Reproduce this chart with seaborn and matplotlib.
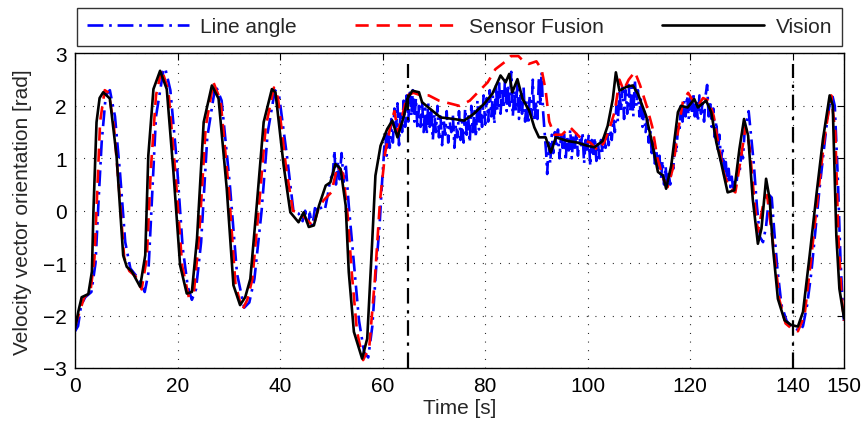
import numpy as np
import pandas as pd
import matplotlib
matplotlib.use("Agg")
import matplotlib.pyplot as plt
import seaborn as sns

# ---------- DATA ----------
vision_t = [0, 0.7, 1.3, 2.6, 3.3, 3.6, 4.2, 4.8, 5.5, 6.8, 8.1, 9.4, 10.1, 11.1, 12.7, 13.7,
            14.3, 15.3, 16.6, 17.9, 19.2, 20.5, 21.8, 22.8, 23.8, 25.1, 26.7, 28.0, 29.6, 30.9,
            32.2, 33.2, 34.2, 35.5, 36.8, 38.4, 39.1, 40.7, 42.0, 43.6, 44.6, 45.6, 46.6, 47.6,
            48.9, 49.8, 50.8, 51.8, 52.8, 53.4, 54.4, 56.0, 57.0, 58.0, 58.6, 59.6, 60.9, 61.9,
            62.9, 64.2, 64.8, 65.8, 67.1, 67.7, 69.3, 71.3, 73.9, 75.9, 77.8, 79.8, 81.4, 83.0,
            84.0, 84.7, 85.3, 86.3, 87.3, 88.6, 89.6, 90.5, 91.8, 92.8, 93.8, 96.1, 98.0, 99.9,
            101.3, 102.9, 103.9, 104.9, 105.5, 106.2, 107.5, 108.8, 109.8, 111.4, 112.4, 113.7,
            114.7, 115.3, 116.3, 117.6, 118.2, 119.5, 120.8, 121.5, 123.1, 124.1, 125.1, 126.0,
            127.3, 128.6, 129.6, 130.5, 131.3, 132.2, 133.2, 133.9, 134.8, 135.5, 136.1, 137.1,
            138.4, 139.7, 141.0, 142.0, 143.3, 144.6, 145.9, 147.2, 147.8, 148.5, 149.1, 150.0]
vision_v = [-2.25, -1.9, -1.65, -1.59, -1.16, 0.0, 1.69, 2.15, 2.26, 2.14, 1.05, -0.85, -1.07,
            -1.16, -1.45, -0.85, 1.05, 2.32, 2.67, 2.32, 0.74, -1.04, -1.58, -1.55, -0.53, 1.69,
            2.39, 2.14, 0.42, -1.42, -1.80, -1.65, -1.30, 0.16, 1.69, 2.32, 2.26, 0.86, -0.03,
            -0.22, -0.03, -0.31, -0.28, 0.10, 0.48, 0.54, 0.89, 0.80, 0.10, -1.17, -2.31, -2.82,
            -2.44, -0.53, 0.67, 1.24, 1.56, 1.72, 1.40, 1.82, 2.13, 2.29, 2.26, 2.07, 1.94, 1.78,
            1.75, 1.72, 1.85, 2.04, 2.23, 2.58, 2.45, 2.61, 2.26, 2.51, 2.13, 1.91, 1.59, 1.40,
            1.40, 1.11, 1.40, 1.33, 1.30, 1.24, 1.21, 1.33, 1.62, 2.13, 2.64, 2.29, 2.36, 2.39,
            2.23, 1.81, 1.37, 0.74, 0.67, 0.42, 0.86, 1.88, 2.00, 1.97, 2.13, 1.97, 2.10, 1.88,
            1.30, 0.93, 0.35, 0.39, 1.18, 1.75, 1.43, 0.22, -0.63, -0.34, 0.61, 0.22, -0.66,
            -1.68, -2.09, -2.18, -2.21, -1.93, -0.85, 0.29, 1.37, 2.20, 2.01, -0.47, -1.49, -2.05]

fusion_t = [0, 1.0, 1.8, 3.0, 3.8, 4.3, 4.9, 5.8, 6.6, 7.6, 8.6, 9.6, 10.6, 11.8, 13.0, 14.0,
            14.8, 15.8, 16.9, 18.2, 19.6, 20.9, 22.2, 23.2, 24.2, 25.5, 27.0, 28.4, 30.0, 31.3,
            32.6, 33.6, 34.6, 35.9, 37.2, 38.8, 39.6, 41.2, 42.5, 44.0, 45.5, 46.5, 47.5, 48.5,
            49.5, 50.0, 51.2, 52.3, 53.2, 54.0, 55.0, 56.2, 57.4, 58.5, 59.5, 60.5, 61.5, 62.3,
            63.0, 63.8, 64.8, 66.0, 67.5, 69.0, 71.0, 73.0, 75.0, 77.0, 79.0, 80.5, 82.0, 84.0,
            85.0, 86.5, 87.5, 88.5, 90.0, 91.0, 91.8, 92.5, 93.5, 95.0, 96.5, 97.5, 99.0, 100.5,
            102.0, 103.2, 104.2, 105.3, 106.2, 107.0, 108.0, 109.2, 110.2, 111.5, 112.6, 113.6,
            114.8, 115.6, 116.6, 117.6, 118.6, 119.6, 120.5, 121.5, 122.5, 123.6, 124.6, 125.6,
            126.6, 127.6, 128.8, 129.8, 130.8, 131.6, 132.5, 133.2, 134.2, 135.0, 135.6, 136.4,
            137.4, 138.6, 139.8, 141.0, 142.3, 143.6, 144.8, 146.2, 147.5, 148.3, 148.9, 149.5, 150.0]
fusion_v = [-2.2, -1.9, -1.65, -1.55, -0.9, 0.3, 1.7, 2.3, 2.25, 1.6, 0.4, -0.9, -1.15, -1.25,
            -1.5, -0.9, 0.8, 2.2, 2.7, 2.3, 0.7, -1.05, -1.65, -1.55, -0.5, 1.6, 2.45, 2.1, 0.4,
            -1.4, -1.9, -1.7, -1.3, 0.1, 1.6, 2.35, 2.15, 0.8, 0.0, -0.05, -0.2, -0.3, 0.05, 0.2,
            0.3, 0.35, 0.85, 0.7, -0.1, -1.2, -2.3, -2.85, -2.6, -1.3, 0.2, 1.1, 1.6, 1.9, 1.5,
            1.8, 2.2, 2.25, 2.2, 2.2, 2.1, 2.05, 2.0, 2.1, 2.3, 2.45, 2.7, 2.85, 2.95, 2.95, 2.85,
            2.8, 2.85, 2.7, 2.3, 1.7, 1.45, 1.45, 1.6, 1.5, 1.35, 1.3, 1.15, 1.3, 1.55, 1.9, 2.5,
            2.3, 2.5, 2.65, 2.4, 2.0, 1.6, 1.0, 0.6, 0.45, 0.8, 1.5, 2.1, 2.25, 2.1, 2.0, 2.15,
            2.1, 1.8, 1.2, 0.7, 0.45, 0.35, 0.95, 1.6, 1.2, 0.2, -0.4, 0.1, 0.3, -0.2, -0.8, -1.7,
            -2.15, -2.25, -2.3, -2.0, -0.9, 0.2, 1.4, 2.2, 1.5, -0.5, -1.6, -2.1]

line_t = [0, 0.6, 1.2, 2.0, 3.2, 4.0, 4.6, 5.2, 6.0, 6.8, 7.8, 8.8, 9.8, 10.8, 11.6, 12.8, 13.6,
          14.3, 15.0, 15.8, 17.2, 17.6, 18.6, 19.8, 21.0, 22.0, 22.8, 23.6, 24.6, 25.8, 27.4,
          28.6, 30.2, 31.6, 33.0, 34.0, 35.0, 36.4, 37.6, 39.0, 39.8, 41.4, 42.6, 43.6, 44.4,
          44.9, 45.4, 45.8, 46.3, 46.8, 47.3, 47.8, 48.3, 48.8, 49.3, 49.8, 50.3, 50.6, 50.9,
          51.3, 51.6, 52.0, 52.4, 52.8, 53.4, 54.4, 55.4, 56.4, 57.2, 58.0, 58.8, 59.4, 59.8,
          60.2, 60.5, 60.8, 61.1, 61.4, 61.7, 62.0, 62.3, 62.6, 62.9, 63.2, 63.5, 63.8, 64.1,
          64.4, 64.7, 65.0, 65.3, 65.6, 65.9, 66.2, 66.5, 66.8, 67.1, 67.4, 67.7, 68.0, 68.3,
          68.6, 68.9, 69.2, 69.5, 69.8, 70.1, 70.4, 70.7, 71.0, 71.3, 71.6, 71.9, 72.2, 72.5,
          72.8, 73.1, 73.4, 73.7, 74.0, 74.3, 74.6, 74.9, 75.2, 75.5, 75.8, 76.1, 76.4, 76.7,
          77.0, 77.3, 77.6, 77.9, 78.2, 78.5, 78.8, 79.1, 79.4, 79.7, 80.0, 80.3, 80.6, 80.9,
          81.2, 81.5, 81.8, 82.1, 82.4, 82.7, 83.0, 83.3, 83.6, 83.9, 84.2, 84.5, 84.8, 85.1,
          85.4, 85.7, 86.0, 86.3, 86.6, 86.9, 87.2, 87.5, 87.8, 88.1, 88.4, 88.7, 89.0, 89.3,
          89.6, 89.9, 90.2, 90.5, 90.8, 91.0, 91.3, 91.6, 91.9, 92.1, 92.4, 92.7, 93.0, 93.3,
          93.6, 93.9, 94.2, 94.5, 94.8, 95.1, 95.4, 95.7, 96.0, 96.3, 96.6, 96.9, 97.2, 97.5,
          97.8, 98.1, 98.4, 98.7, 99.0, 99.3, 99.6, 99.9, 100.2, 100.5, 100.8, 101.1, 101.4,
          101.7, 102.0, 102.3, 102.6, 102.9, 103.2, 103.5, 103.8, 104.1, 104.4, 104.7, 105.0,
          105.3, 105.6, 105.9, 106.2, 106.5, 106.8, 107.1, 107.4, 107.7, 108.0, 108.3, 108.6,
          108.9, 109.2, 109.5, 109.8, 110.1, 110.4, 110.7, 111.0, 111.3, 111.6, 111.9, 112.2,
          112.5, 112.8, 113.1, 113.4, 113.7, 114.0, 114.3, 114.6, 114.9, 115.2, 115.5, 115.8,
          116.1, 116.4, 116.7, 117.0, 117.3, 117.6, 117.9, 118.2, 118.5, 118.8, 119.1, 119.4,
          119.7, 120.0, 120.3, 120.6, 120.9, 121.2, 121.5, 121.8, 122.1, 122.4, 122.7, 123.0,
          123.3, 123.6, 123.9, 124.2, 124.5, 124.8, 125.1, 125.4, 125.7, 126.0, 126.3, 126.6,
          126.9, 127.2, 127.5, 127.8, 128.1, 128.4, 128.7, 129.0, 129.3, 129.6, 130.0, 130.3,
          130.6, 131.0, 131.4, 131.8, 132.4, 133.0, 133.6, 134.2, 134.8, 135.4, 135.9, 136.4,
          137.0, 137.8, 138.8, 139.6, 140.6, 141.4, 142.0, 142.8, 143.6, 144.4, 145.2, 146.0,
          146.8, 147.6, 148.2, 148.8, 149.3, 149.7, 150.0]
line_v = [-2.3, -2.2, -1.8, -1.65, -1.55, -1.0, 0.2, 1.3, 2.2, 2.3, 1.8, 0.7, -0.6, -1.1, -1.2,
          -1.35, -1.55, -1.2, 0.2, 1.8, 2.65, 2.72, 2.3, 1.0, -0.7, -1.45, -1.7, -1.5, -0.6, 1.4,
          2.4, 2.1, 0.5, -1.2, -1.85, -1.75, -1.3, 0.0, 1.5, 2.3, 2.2, 1.0, 0.0, -0.05, -0.2,
          0.0, -0.3, -0.05, -0.3, 0.05, 0.0, 0.08, 0.0, 0.05, 0.3, 0.6, 0.7, 1.15, 0.5, 0.95,
          0.6, 1.1, 0.55, 0.9, 0.1, -1.0, -2.1, -2.7, -2.8, -2.2, -1.0, -0.3, 0.4, 1.0, 1.5,
          1.05, 1.6, 1.2, 1.75, 1.3, 1.95, 1.5, 2.05, 1.25, 1.9, 1.5, 2.1, 1.6, 2.2, 1.7, 2.25,
          1.8, 2.3, 1.7, 2.15, 1.55, 2.0, 1.6, 2.1, 1.5, 1.95, 1.45, 2.05, 1.6, 1.9, 1.35, 1.85,
          1.5, 2.0, 1.4, 1.8, 1.25, 1.75, 1.45, 1.9, 1.3, 1.7, 1.5, 1.85, 1.2, 1.65, 1.4, 1.9,
          1.35, 1.7, 1.3, 1.95, 1.45, 1.8, 1.3, 2.0, 1.5, 1.9, 1.4, 2.1, 1.55, 2.05, 1.6, 2.2,
          1.65, 2.15, 1.7, 2.3, 1.8, 2.2, 1.65, 2.4, 1.9, 2.5, 1.85, 2.35, 1.95, 2.55, 1.9, 2.4,
          2.0, 2.65, 1.8, 2.3, 1.9, 2.45, 1.75, 2.2, 1.85, 2.35, 1.7, 2.1, 1.65, 2.2, 1.8, 2.5,
          1.7, 2.1, 1.75, 2.55, 2.0, 2.65, 1.9, 1.5, 1.1, 0.7, 1.3, 0.9, 1.45, 1.1, 1.5, 1.2,
          1.55, 1.0, 1.45, 1.2, 1.5, 0.95, 1.4, 1.15, 1.55, 1.0, 1.45, 1.2, 1.5, 1.05, 1.4, 1.25,
          1.5, 0.9, 1.35, 1.1, 1.45, 0.85, 1.35, 1.05, 1.4, 0.95, 1.3, 1.0, 1.35, 1.1, 1.4, 1.2,
          1.5, 1.25, 1.55, 1.35, 1.75, 1.5, 2.0, 1.7, 2.3, 1.9, 2.35, 1.75, 2.3, 1.85, 2.4, 1.9,
          2.35, 1.8, 2.5, 2.0, 2.3, 1.8, 2.15, 1.6, 1.9, 1.5, 1.75, 1.3, 1.55, 1.1, 1.3, 0.9,
          1.15, 0.75, 1.05, 0.6, 0.95, 0.5, 0.85, 0.45, 0.7, 0.5, 0.9, 0.8, 1.3, 1.1, 1.6, 1.5,
          2.0, 1.7, 2.1, 1.8, 2.2, 1.75, 2.15, 1.85, 2.25, 1.8, 2.1, 1.7, 2.2, 1.85, 2.05, 1.7,
          2.2, 2.4, 1.8, 2.1, 1.6, 1.95, 1.4, 1.7, 1.15, 1.45, 0.95, 1.2, 0.75, 1.0, 0.55, 0.8,
          0.45, 0.65, 0.4, 0.55, 0.5, 0.8, 0.7, 1.1, 1.0, 1.5, 1.7, 1.9, 1.5, 0.9, 0.1, -0.5,
          -0.6, -0.3, 0.3, 0.25, -0.4, -1.1, -1.8, -2.1, -2.2, -2.25, -2.3, -2.2, -1.8, -1.2,
          -0.4, 0.4, 1.1, 1.8, 2.25, 2.0, 0.6, -0.9, -1.7, -2.1]

series_names = ["Line angle", "Sensor Fusion", "Vision"]
series_colors = {"Line angle": "#0000ff", "Sensor Fusion": "#ff0000", "Vision": "#000000"}
series_dashes = {"Line angle": (6, 2.2, 1, 2.2), "Sensor Fusion": (5, 3), "Vision": ""}

event_times = [65, 140]   # vertical dash-dot markers
event_top = 2.8

x_ticks = [0, 20, 40, 60, 80, 100, 120, 140, 150]
y_ticks = [-3, -2, -1, 0, 1, 2, 3]

df = pd.concat([
    pd.DataFrame({"t": line_t, "v": line_v, "series": "Line angle"}),
    pd.DataFrame({"t": fusion_t, "v": fusion_v, "series": "Sensor Fusion"}),
    pd.DataFrame({"t": vision_t, "v": vision_v, "series": "Vision"}),
], ignore_index=True)

# ---------- STYLE ----------
sns.set_style("white")
plt.rcParams["font.family"] = ["Liberation Sans", "DejaVu Sans"]
plt.rcParams["font.size"] = 15

fig = plt.figure(figsize=(8.63, 4.31), dpi=100)
ax = fig.add_axes([0.0869, 0.1439, 0.8911, 0.7297])

sns.lineplot(data=df, x="t", y="v", hue="series", style="series",
             hue_order=series_names, style_order=series_names,
             palette=series_colors, dashes=series_dashes,
             estimator=None, sort=False, linewidth=1.9, legend=False, ax=ax)

ax.vlines(event_times, -3, event_top, colors="black", linewidth=1.6,
          linestyles=[(0, (7, 3, 1.5, 3))])

ax.set_xlim(0, 150)
ax.set_ylim(-3, 3)
ax.set_xticks(x_ticks)
ax.set_yticks(y_ticks)
ax.grid(True, color="black", linewidth=0.8, linestyle=(0, (0.8, 7)))
ax.tick_params(direction="in", length=5, width=0.8, top=True, right=True,
               labelsize=15, pad=6, colors="black")
for s in ax.spines.values():
    s.set_linewidth(1.0)
    s.set_color("black")
ax.set_xlabel("Time [s]", fontsize=15, labelpad=2)
ax.set_ylabel("Velocity vector orientation [rad]", fontsize=15, labelpad=8)

handles = ax.get_lines()[:3]
leg = ax.legend(handles, series_names, loc="lower left", ncol=3, mode="expand",
                bbox_to_anchor=(0.003, 1.025, 0.994, 0.13), borderaxespad=0,
                frameon=True, fancybox=False, edgecolor="black", handlelength=4.9,
                handletextpad=0.55, fontsize=15, borderpad=0.45, columnspacing=2.0)
leg.get_frame().set_linewidth(1.0)

plt.savefig("out.png", dpi=100)
